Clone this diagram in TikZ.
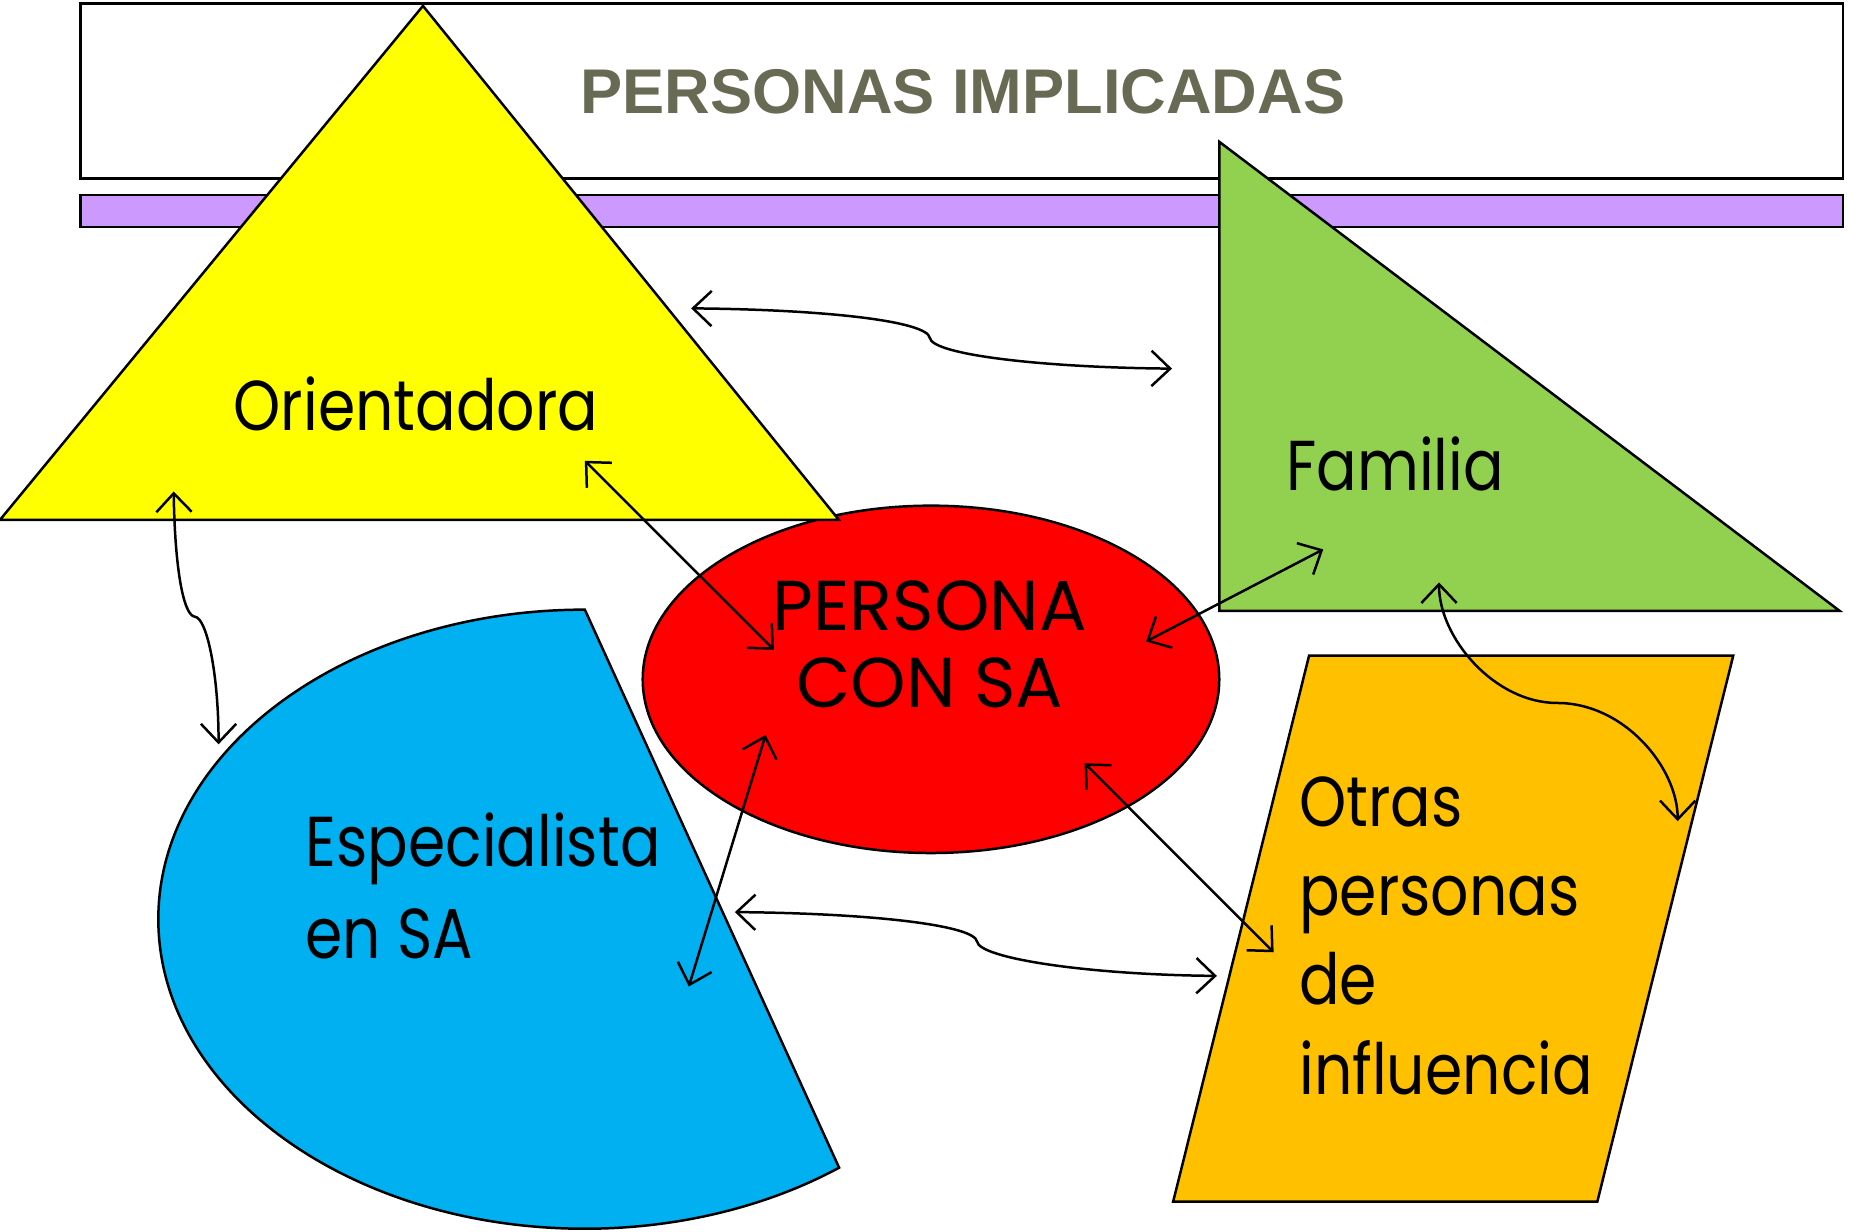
\documentclass[tikz,border=0pt]{standalone}
\usepackage{fontspec}
\setmainfont{Poppins}
\newfontfamily\comic{Poppins}[FakeStretch=0.85]
\newfontfamily\titlefont{Liberation Sans}
\usepackage{xcolor}
\usepackage{tikz}
\usetikzlibrary{arrows.meta}
\definecolor{amarillo}{HTML}{FFFF00}
\definecolor{verde}{HTML}{92D050}
\definecolor{rojo}{HTML}{FF0000}
\definecolor{azul}{HTML}{00B0F0}
\definecolor{naranja}{HTML}{FFC000}
\definecolor{lila}{HTML}{CC99FF}
\definecolor{gris}{RGB}{104,106,84}
\tikzset{
  forma/.style={draw=black,line width=0.6pt},
  flecha/.style={{Straight Barb[length=4.5pt,width=8.5pt]}-{Straight Barb[length=4.5pt,width=8.5pt]},line width=0.6pt},
  rotulo/.style={font=\comic\fontsize{17}{21.5}\selectfont,inner sep=0pt},
  titulo/.style={font=\titlefont\bfseries\fontsize{15.2}{18}\selectfont,text=gris,inner sep=0pt}
}
\begin{document}
\begin{tikzpicture}[x=0.01cm,y=-0.01cm]
    \useasboundingbox (0,0) rectangle (1565,1042);
    \draw [forma,fill=white] (68,3) rectangle (1560,151);
    \node [titulo] (titulo) at (815,78) {PERSONAS IMPLICADAS};
    \draw [forma,fill=lila] (68,165) rectangle (1560,192);
    \draw [forma,fill=rojo] (788,575) ellipse [x radius=244,y radius=147];
    \draw [forma,fill=amarillo] (358,5) -- (710,440) -- (0,440) -- cycle;
    \draw [forma,fill=verde] (1032,120) -- (1557,517) -- (1032,517) -- cycle;
    \draw [forma,fill=azul] (495,516) arc [start angle=270,end angle=53.4,x radius=361,y radius=262] -- cycle;
    \draw [forma,fill=naranja] (1108,555) -- (1467,555) -- (1352,1017) -- (993,1017) -- cycle;
    \node [rotulo] (ori) at (352,342) {Orientadora};
    \node [rotulo] (fam) at (1181,393) {Familia};
    \node [rotulo,align=center,font=\fontsize{17}{18.5}\selectfont] (per) at (787,545) {PERSONA\\CON SA};
    \node [rotulo,align=left,anchor=west,font=\comic\fontsize{17}{22}\selectfont] (esp) at (258,750) {Especialista\\en SA};
    \node [rotulo,align=left,anchor=west] (otr) at (1099,792) {Otras\\personas\\de\\influencia};
    \coordinate (ori-fam) at (585,261);
    \coordinate (fam-ori) at (992,312);
    \coordinate (ori-esp) at (147,416);
    \coordinate (esp-ori) at (185,630);
    \coordinate (ori-per) at (495,390);
    \coordinate (per-ori) at (655,550);
    \coordinate (fam-per) at (1120,465);
    \coordinate (per-fam) at (970,543);
    \coordinate (fam-otr) at (1218,493);
    \coordinate (otr-fam) at (1420,695);
    \coordinate (per-esp) at (648,622);
    \coordinate (esp-per) at (583,835);
    \coordinate (per-otr) at (918,646);
    \coordinate (otr-per) at (1078,806);
    \coordinate (esp-otr) at (622,772);
    \coordinate (otr-esp) at (1030,826);
    \draw [flecha] (ori-fam) .. controls (700,262) and (785,272) .. (787,286) .. controls (789,300) and (880,311) .. (fam-ori);
    \draw [flecha] (ori-esp) .. controls (148,480) and (155,521) .. (165,522) .. controls (175,523) and (185,570) .. (esp-ori);
    \draw [flecha] (ori-per) -- (per-ori);
    \draw [flecha] (fam-per) -- (per-fam);
    \draw [flecha] (fam-otr) .. controls (1218,540) and (1265,595) .. (1318,595) .. controls (1375,595) and (1420,650) .. (otr-fam);
    \draw [flecha] (per-esp) -- (esp-per);
    \draw [flecha] (per-otr) -- (otr-per);
    \draw [flecha] (esp-otr) .. controls (737,773) and (825,783) .. (827,797) .. controls (829,811) and (920,825) .. (otr-esp);
\end{tikzpicture}
\end{document}
